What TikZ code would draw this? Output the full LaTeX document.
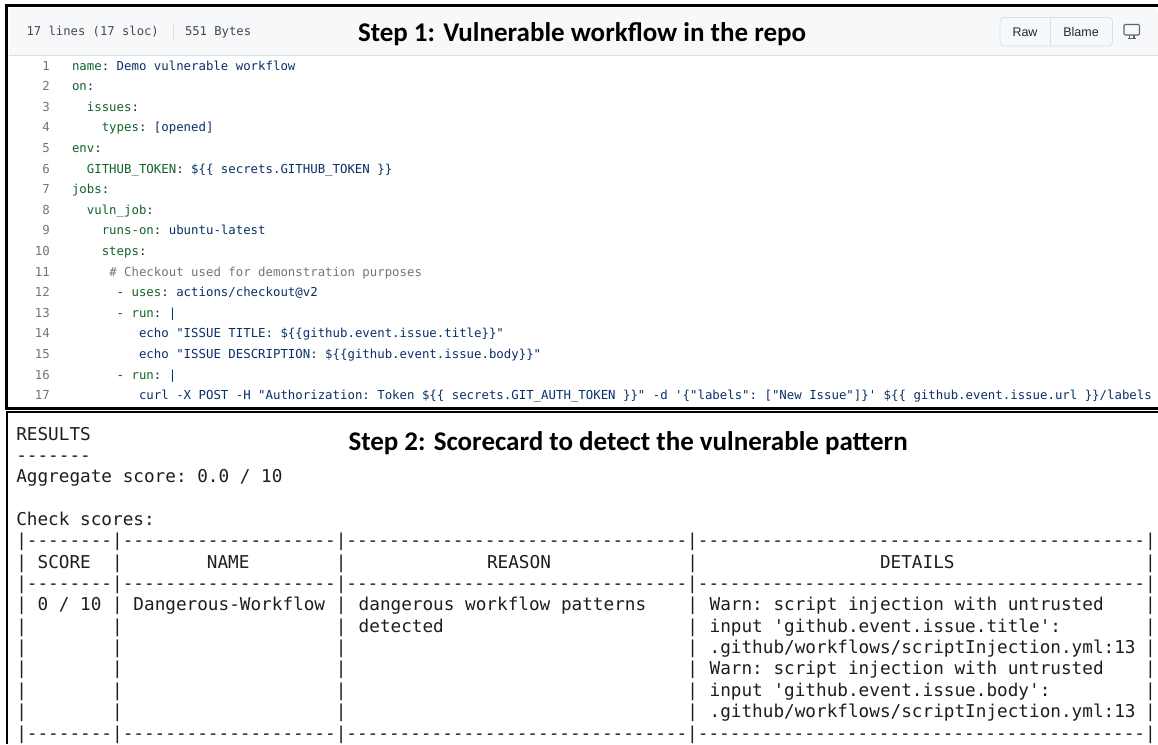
\documentclass[tikz,border=0pt]{standalone}
\usepackage{fontspec}
\setmainfont{Carlito}
\setmonofont{DejaVu Sans Mono}
\newfontfamily\uifont{Liberation Sans}
\definecolor{keyc}{HTML}{116329}
\definecolor{valc}{HTML}{0A3069}
\definecolor{numc}{HTML}{6E7781}
\definecolor{txtc}{HTML}{24292F}
\definecolor{hdrc}{HTML}{F6F8FA}
\definecolor{rulec}{HTML}{D8DEE4}
\definecolor{termc}{HTML}{1E1E1E}
\newcommand\K[1]{{\color{keyc}#1}}
\newcommand\V[1]{{\color{valc}\detokenize{#1}}}
\newcounter{cl}
\tikzset{
  x=1pt,y=-1pt,
  txt/.style={inner sep=0pt,outer sep=0pt,anchor=base west},
  code/.style={txt,font=\ttfamily\fontsize{12.37}{14}\selectfont,text=txtc},
  lnum/.style={inner sep=0pt,anchor=base east,font=\ttfamily\fontsize{12.37}{14}\selectfont,text=numc},
  term/.style={txt,font=\ttfamily\fontsize{17.69}{20}\selectfont,text=termc},
  steptitle/.style={txt,font=\fontsize{27}{30}\selectfont\bfseries,text=black},
  uitxt/.style={inner sep=0pt,font=\uifont\fontsize{12.5}{15}\selectfont,text=txtc},
  frameline/.style={draw=black,line width=3pt},
}
% code line: line number, column, content
\newcommand\codeline[3]{%
  \pgfmathsetmacro\by{70+20.6*(#1-1)}%
  \node[lnum] (n#1) at (50,\by) {#1};
  \node[code] (l#1) at ({72+7.45*#2},\by) {#3};}
% terminal cell: grid row, column, content
\newcommand\tcell[3]{%
  \stepcounter{cl}%
  \pgfmathsetmacro\by{440+21.36*#1}%
  \node[term] (t\arabic{cl}) at ({16.3+10.65*#2},\by) {#3};}
\newcommand\bars[1]{%
  \tcell{#1}{0}{|}\tcell{#1}{9}{|}\tcell{#1}{30}{|}\tcell{#1}{63}{|}\tcell{#1}{106}{|}}
\begin{document}
\begin{tikzpicture}
\useasboundingbox (0,0) rectangle (1158,744);
\fill[white] (0,0) rectangle (1158,744);
% header band
\fill[hdrc,rounded corners=5pt] (9,8) rectangle (1158,40);
\fill[hdrc] (9,20) rectangle (1158,55);
\draw[rulec,line width=0.9pt] (9,55) -- (1158,55);
\draw[rulec,line width=0.7pt] (173,23) -- (173,41);
\node[code,text=txtc!85!white,font=\ttfamily\fontsize{12.2}{14}\selectfont] (hl) at (26.6,35.5) {17 lines (17 sloc)};
\node[code,text=txtc!85!white,font=\ttfamily\fontsize{12.2}{14}\selectfont] (hb) at (185,35.5) {551 Bytes};
\node[steptitle] (s1) at (358,41.5) {Step 1: Vulnerable workflow in the repo};
% Raw / Blame
\draw[rulec,fill=hdrc,line width=0.8pt,rounded corners=4pt] (1000,17.5) rectangle (1112.5,46);
\draw[rulec,line width=0.8pt] (1050.5,17.5) -- (1050.5,46);
\node[uitxt] (raw) at (1025,32) {Raw};
\node[uitxt] (blame) at (1081,32) {Blame};
% desktop icon
\draw[numc!85!black,line width=1.1pt,rounded corners=1.2pt] (1124,24.5) rectangle (1139.5,35);
\draw[numc!85!black,line width=1.1pt] (1129.5,35) -- (1129.5,38.5) (1134,35) -- (1134,38.5) (1127.5,38.8) -- (1136,38.8);
% code
\codeline{1}{0}{\K{name}: \V{Demo vulnerable workflow}}
\codeline{2}{0}{\K{on}:}
\codeline{3}{2}{\K{issues}:}
\codeline{4}{4}{\K{types}: \V{[opened]}}
\codeline{5}{0}{\K{env}:}
\codeline{6}{2}{\K{GITHUB\_TOKEN}: \V{${{ secrets.GITHUB_TOKEN }}}}
\codeline{7}{0}{\K{jobs}:}
\codeline{8}{2}{\K{vuln\_job}:}
\codeline{9}{4}{\K{runs-on}: \V{ubuntu-latest}}
\codeline{10}{4}{\K{steps}:}
\codeline{11}{5}{{\color{numc}\# Checkout used for demonstration purposes}}
\codeline{12}{6}{- \K{uses}: \V{actions/checkout@v2}}
\codeline{13}{6}{- \K{run}: \V{|}}
\codeline{14}{9}{\V{echo "ISSUE TITLE: ${{github.event.issue.title}}"}}
\codeline{15}{9}{\V{echo "ISSUE DESCRIPTION: ${{github.event.issue.body}}"}}
\codeline{16}{6}{- \K{run}: \V{|}}
\codeline{17}{9}{\V{curl -X POST -H "Authorization: Token ${{ secrets.GIT_AUTH_TOKEN }}" -d '{"labels": ["New Issue"]}' ${{ github.event.issue.url }}/labels}}
% frames
\draw[frameline] (1158,5.2) -- (6.5,5.2) -- (6.5,408) -- (1158,408);
\draw[frameline,line width=2.4pt] (7,744) -- (7,412.2) -- (1158,412.2);
% terminal
\node[steptitle] (s2) at (348.5,450) {Step 2: Scorecard to detect the vulnerable pattern};
\tcell{0}{0}{RESULTS}
\tcell{1}{0}{-------}
\tcell{2}{0}{Aggregate score: 0.0 / 10}
\tcell{4}{0}{Check scores:}
\def\dashrow{|--------|--------------------|--------------------------------|------------------------------------------|}
\tcell{5}{0}{\dashrow}
\tcell{7}{0}{\dashrow}
\tcell{14}{0}{\dashrow}
\foreach \r in {6,8,9,10,11,12,13}{\bars{\r}}
\tcell{6}{2}{SCORE}
\tcell{6}{17.9}{NAME}
\tcell{6}{44.2}{REASON}
\tcell{6}{81.1}{DETAILS}
\tcell{8}{2}{0 / 10}
\tcell{8}{11}{Dangerous-Workflow}
\tcell{8}{32.15}{dangerous workflow patterns}
\tcell{9}{32.15}{detected}
\tcell{8}{65.1}{Warn: script injection with untrusted}
\tcell{9}{65.1}{input 'github.event.issue.title':}
\tcell{10}{65.1}{.github/workflows/scriptInjection.yml:13}
\tcell{11}{65.1}{Warn: script injection with untrusted}
\tcell{12}{65.1}{input 'github.event.issue.body':}
\tcell{13}{65.1}{.github/workflows/scriptInjection.yml:13}
\end{tikzpicture}
\end{document}
